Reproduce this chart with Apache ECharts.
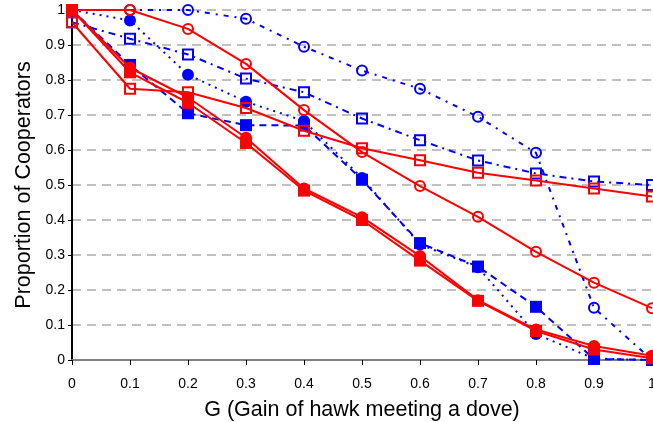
<!DOCTYPE html>
<html>
<head>
<meta charset="utf-8">
<script src="https://cdn.jsdelivr.net/npm/echarts@6/dist/echarts.min.js"></script>
<style>
  html, body { margin: 0; padding: 0; background: #fff; overflow: hidden; }
  #chart { width: 653px; height: 422px; }
</style>
</head>
<body>
<div id="chart"></div>
<script>
// Gain of a hawk meeting a dove (G)
const gValues = [0, 0.1, 0.2, 0.3, 0.4, 0.5, 0.6, 0.7, 0.8, 0.9, 1.0];

// Blue (dotted) runs
const blueOpenCircle   = [1.0, 1.0, 1.0, 0.975, 0.895, 0.827, 0.775, 0.695, 0.592, 0.149, 0.0];
const blueOpenSquare   = [0.965, 0.918, 0.873, 0.804, 0.765, 0.69, 0.628, 0.57, 0.533, 0.51, 0.5];
const blueFilledCircle = [1.0, 0.97, 0.815, 0.738, 0.683, 0.52, 0.33, 0.265, 0.074, 0.004, 0.0];
const blueFilledSquare = [1.0, 0.843, 0.705, 0.671, 0.67, 0.515, 0.334, 0.267, 0.152, 0.003, 0.0];

// Red (solid) runs
const redOpenCircle    = [1.0, 1.0, 0.946, 0.846, 0.714, 0.594, 0.497, 0.409, 0.309, 0.221, 0.148];
const redOpenSquare    = [0.965, 0.775, 0.765, 0.72, 0.655, 0.605, 0.571, 0.535, 0.513, 0.49, 0.467];
const redFilledCircle  = [1.0, 0.835, 0.75, 0.635, 0.49, 0.408, 0.297, 0.171, 0.087, 0.04, 0.012];
const redFilledSquare  = [1.0, 0.822, 0.735, 0.62, 0.484, 0.4, 0.284, 0.169, 0.083, 0.03, 0.005];

const BLUE = '#0000ff';
const RED = '#ff0000';
const FONT = 'Liberation Sans';

function pairs(vals) {
  return gValues.map((g, i) => [g, vals[i]]);
}

function run(name, vals, color, filled, shape, dash, z) {
  const item = filled
    ? { color: color, borderWidth: 0 }
    : { color: 'rgba(0,0,0,0)', borderColor: color, borderWidth: 2 };
  return {
    name: name,
    type: 'line',
    data: pairs(vals),
    symbol: shape === 'circle' ? 'circle' : 'rect',
    symbolSize: filled ? 12 : 10,
    showAllSymbol: true,
    clip: false,
    z: z,
    lineStyle: { color: color, width: 2, type: dash },
    itemStyle: item,
    emphasis: { disabled: true },
    animation: false
  };
}

const chart = echarts.init(document.getElementById('chart'), null, { renderer: 'canvas' });

chart.setOption({
  backgroundColor: '#ffffff',
  animation: false,
  grid: { left: 72, right: 1, top: 10, bottom: 62, containLabel: false, outerBoundsMode: 'none' },
  xAxis: [
    {
      type: 'value',
      min: 0, max: 1, interval: 0.1,
      name: 'G (Gain of hawk meeting a dove)',
      nameLocation: 'middle',
      nameGap: 39,
      nameTextStyle: { fontFamily: FONT, fontSize: 21.5, color: '#000' },
      axisLine: { show: true, onZero: false, lineStyle: { color: '#000', width: 2 } },
      axisTick: { show: true, length: 5, lineStyle: { color: '#000', width: 1 } },
      axisLabel: {
        fontFamily: FONT, fontSize: 14, color: '#000', margin: 17,
        formatter: v => String(Math.round(v * 10) / 10)
      },
      splitLine: { show: false }
    },
    {
      type: 'value',
      position: 'top',
      min: 0, max: 1,
      axisLine: { show: true, lineStyle: { color: '#808080', width: 2 } },
      axisTick: { show: false },
      axisLabel: { show: false },
      splitLine: { show: false }
    }
  ],
  yAxis: {
    type: 'value',
    min: 0, max: 1, interval: 0.1,
    name: 'Proportion of Cooperators',
    nameLocation: 'middle',
    nameGap: 34,
    nameTextStyle: { fontFamily: FONT, fontSize: 21.5, color: '#000' },
    axisLine: { show: true, lineStyle: { color: '#000', width: 2 } },
    axisTick: { show: true, length: 4, lineStyle: { color: '#000', width: 1 } },
    axisLabel: {
      fontFamily: FONT, fontSize: 14, color: '#000', margin: 7,
      formatter: v => String(Math.round(v * 10) / 10)
    },
    splitLine: { show: true, lineStyle: { color: '#c0c0c0', width: 2, type: [9, 6] } }
  },
  series: [
    run('blueOpenCircle', blueOpenCircle, BLUE, false, 'circle', [5, 6, 2, 6], 2),
    run('blueOpenSquare', blueOpenSquare, BLUE, false, 'square', [7, 5, 2, 5], 2),
    run('blueFilledCircle', blueFilledCircle, BLUE, true, 'circle', [2, 5], 2),
    run('blueFilledSquare', blueFilledSquare, BLUE, true, 'square', [7, 5], 2),
    run('redOpenCircle', redOpenCircle, RED, false, 'circle', 'solid', 3),
    run('redOpenSquare', redOpenSquare, RED, false, 'square', 'solid', 3),
    run('redFilledCircle', redFilledCircle, RED, true, 'circle', 'solid', 3),
    run('redFilledSquare', redFilledSquare, RED, true, 'square', 'solid', 3)
  ]
});
</script>
</body>
</html>
